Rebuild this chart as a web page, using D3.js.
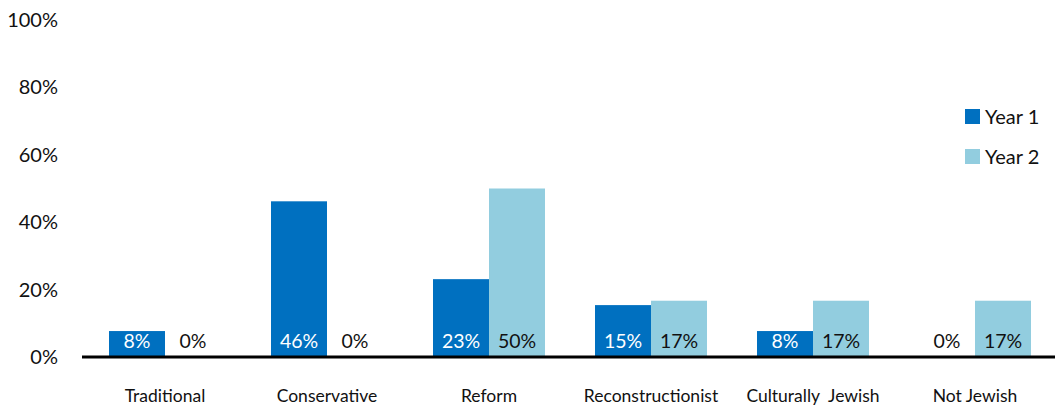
<!DOCTYPE html>
<html>
<head>
<meta charset="utf-8">
<script src="https://cdn.jsdelivr.net/npm/d3@7"></script>
<style>
  body { margin: 0; background: #fff; }
  svg text { font-family: Lato, "Noto Sans", sans-serif; fill: #111; }
</style>
</head>
<body>
<svg width="1055" height="411"></svg>
<script>
// chart data
var categories = ["Traditional", "Conservative", "Reform", "Reconstructionist", "Culturally  Jewish", "Not Jewish"];
var seriesNames = ["Year 1", "Year 2"];
var year1 = [7.7, 46.2, 23.1, 15.4, 7.7, 0];
var year2 = [0, 0, 50, 16.7, 16.7, 16.7];
var yTicks = [0, 20, 40, 60, 80, 100];
var colors = ["#0070C0", "#92CDDF"];

var svg = d3.select("svg");
var values = [year1, year2];

// scales
var x0 = d3.scaleBand().domain(categories).range([84, 1056]).padding(0);
var x1 = d3.scaleBand().domain(seriesNames).range([25, 137]).padding(0);
var y = d3.scaleLinear().domain([0, 100]).range([357, 20]);

// y tick labels (no axis line)
var yAxis = d3.axisLeft(y).tickValues(yTicks).tickSize(0).tickPadding(0)
    .tickFormat(function(d) { return d + "%"; });
var yg = svg.append("g").attr("transform", "translate(58,0)").call(yAxis);
yg.select(".domain").remove();
yg.selectAll("text").style("font-size", "20px").attr("fill", "#111");

// bars
var groups = svg.selectAll("g.grp")
    .data(categories)
    .enter().append("g")
    .attr("class", "grp")
    .attr("transform", function(d) { return "translate(" + x0(d) + ",0)"; });

groups.selectAll("rect")
    .data(function(d, i) {
        return seriesNames.map(function(s, j) { return { s: s, j: j, v: values[j][i] }; });
    })
    .enter().append("rect")
    .attr("x", function(d) { return x1(d.s); })
    .attr("width", x1.bandwidth())
    .attr("y", function(d) { return y(d.v); })
    .attr("height", function(d) { return y(0) - y(d.v); })
    .attr("fill", function(d) { return colors[d.j]; });

// value labels
groups.selectAll("text.val")
    .data(function(d, i) {
        return seriesNames.map(function(s, j) { return { s: s, j: j, v: values[j][i] }; });
    })
    .enter().append("text")
    .attr("class", "val")
    .attr("x", function(d) { return x1(d.s) + x1.bandwidth() / 2; })
    .attr("y", y(0) - 9)
    .attr("text-anchor", "middle")
    .style("font-size", "19.5px")
    .style("fill", function(d) { return (d.j === 0 && d.v > 0) ? "#fff" : "#111"; })
    .text(function(d) { return Math.round(d.v) + "%"; });

// baseline
svg.append("line")
    .attr("x1", 82).attr("x2", 1055)
    .attr("y1", y(0)).attr("y2", y(0))
    .attr("stroke", "#000").attr("stroke-width", 3);

// category axis
var xAxis = d3.axisBottom(x0).tickSize(0).tickPadding(0);
var xg = svg.append("g").attr("transform", "translate(0,390)").call(xAxis);
xg.select(".domain").remove();
xg.selectAll("text").style("font-size", "17.5px").attr("fill", "#111")
    .style("white-space", "pre");

// legend
var legend = svg.selectAll("g.leg")
    .data(seriesNames)
    .enter().append("g")
    .attr("class", "leg")
    .attr("transform", function(d, i) { return "translate(965," + (109 + i * 40) + ")"; });
legend.append("rect").attr("width", 15).attr("height", 15)
    .attr("fill", function(d, i) { return colors[i]; });
legend.append("text").attr("x", 20).attr("y", 8).attr("dy", "0.35em")
    .style("font-size", "20px").text(function(d) { return d; });
</script>
</body>
</html>
